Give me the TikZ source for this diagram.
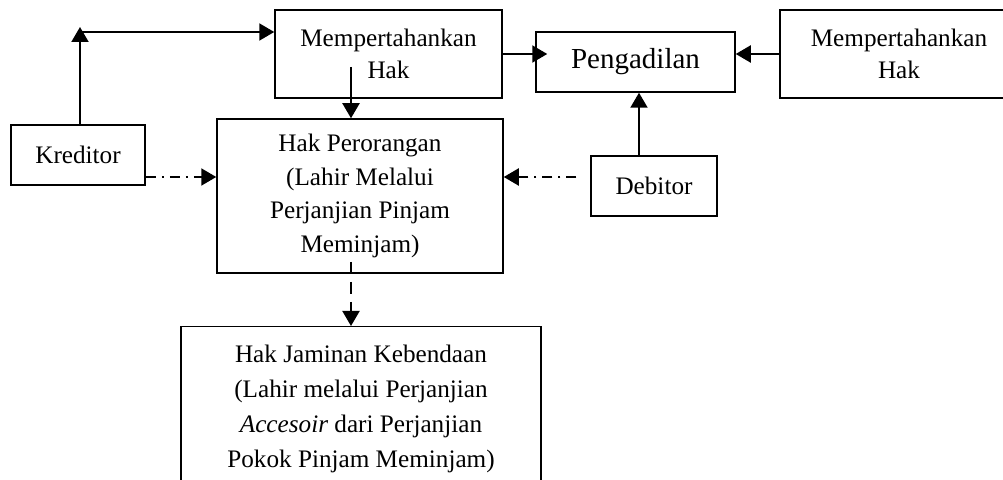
\documentclass[tikz,border=0pt]{standalone}
\usepackage{fontspec}
\setmainfont{Liberation Serif}
\usepackage{tikz}
\usetikzlibrary{arrows.meta}
\tikzset{>={Triangle[length=7.5pt,width=8.5pt]}}
\tikzset{kotak/.style={draw,line width=0.75pt,align=center,inner sep=0pt,font=\fontsize{12.6}{16.9}\selectfont}}
\tikzset{titik/.style={dash pattern=on 5pt off 3pt on 1pt off 3pt}}
\tikzset{putus/.style={dash pattern=on 6pt off 4pt}}

\begin{document}
\begin{tikzpicture}[x=0.5pt,y=-0.5pt,line width=1pt]
    \useasboundingbox (0,0) rectangle (1003,480);
    \node[kotak,minimum width=67pt,minimum height=30pt] (kreditor) at (78,155) {Kreditor};
    \node[kotak,minimum width=113.5pt,minimum height=44pt,font=\fontsize{12.6}{16.2}\selectfont] (hakKiri) at (388.5,54) {Mempertahankan\\Hak};
    \node[kotak,minimum width=99.5pt,minimum height=30pt,font=\fontsize{14.5}{17}\selectfont] (pengadilan) at (635.5,62) {Pengadilan};
    \node[kotak,minimum width=119pt,minimum height=44pt,font=\fontsize{12.6}{16.2}\selectfont] (hakKanan) at (899,54) {Mempertahankan\\Hak};
    \node[kotak,minimum width=143pt,minimum height=77pt] (perorangan) at (360,196) {Hak Perorangan\\(Lahir Melalui\\Perjanjian Pinjam\\Meminjam)};
    \node[kotak,minimum width=63pt,minimum height=30pt] (debitor) at (654,186) {Debitor};
    \node[kotak,minimum width=180pt,minimum height=82pt,anchor=north,font=\fontsize{12.6}{17.6}\selectfont] (jaminan) at (361,326) {Hak Jaminan Kebendaan\\(Lahir melalui Perjanjian\\\textit{Accesoir} dari Perjanjian\\Pokok Pinjam Meminjam)};

    \coordinate (puncak) at (80,27);
    \coordinate (sudut) at (80,32);
    \coordinate (turun) at (351,67);
    \coordinate (garis) at (0,177);
    \coordinate (bawah) at (351,262);
    \coordinate (naik) at (639,0);
    \draw[->] (kreditor.north -| puncak) -- (puncak);
    \draw[->] (sudut) -- (sudut -| hakKiri.west);
    \draw[->] (turun) -- (turun |- perorangan.north);
    \draw[->,shorten >=-6pt] (hakKiri.east) -- (hakKiri.east -| pengadilan.west);
    \draw[->] (hakKanan.west) -- (hakKanan.west -| pengadilan.east);
    \draw[->] (debitor.north -| naik) -- (naik |- pengadilan.south);
    \draw[titik,->] (kreditor.east |- garis) -- (perorangan.west |- garis);
    \draw[titik,->] ([xshift=-7pt]debitor.west |- garis) -- (perorangan.east |- garis);
    \draw[putus,->] (bawah) -- (bawah |- jaminan.north);
\end{tikzpicture}
\end{document}
